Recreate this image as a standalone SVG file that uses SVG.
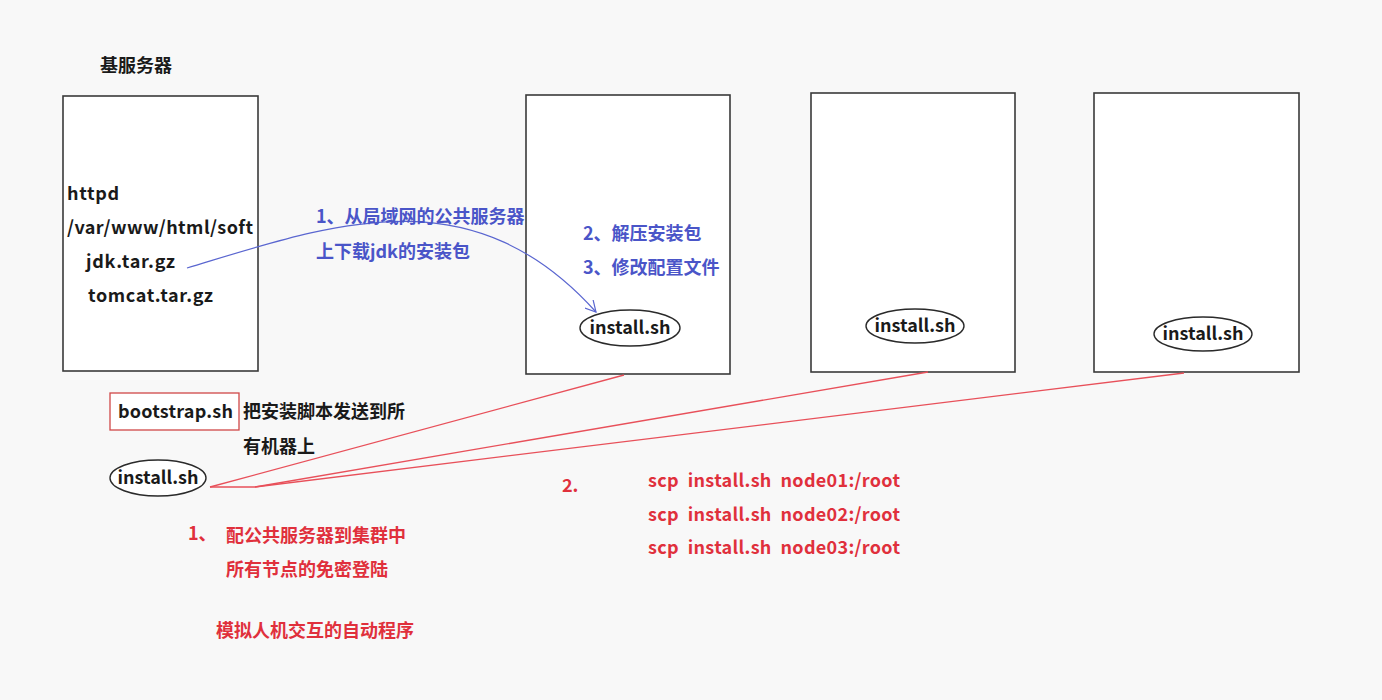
<svg xmlns="http://www.w3.org/2000/svg" width="1382" height="700" viewBox="0 0 1382 700">
<style>
.bg{fill:#f8f8f8}
.box{fill:#ffffff;stroke:#3a3a3a;stroke-width:1.6}
.ell{fill:#ffffff;stroke:#2a2a2a;stroke-width:1.4}
.t{font-family:"Noto Sans CJK SC","Liberation Sans",sans-serif;font-weight:bold;font-size:18px;fill:#1a1a1a}
.tb{font-family:"Noto Sans CJK SC","Liberation Sans",sans-serif;font-weight:bold;font-size:18px;fill:#4a55c8}
.tr{font-family:"Noto Sans CJK SC","Liberation Sans",sans-serif;font-weight:bold;font-size:18px;fill:#e0303c}
.red{fill:none;stroke:#e8505a;stroke-width:1.3}
.blue{fill:none;stroke:#5a66d0;stroke-width:1.2}
</style>
<defs>
<marker id="vArrow" viewBox="0 0 12 12" refX="11" refY="6" markerWidth="12" markerHeight="12" markerUnits="userSpaceOnUse" orient="auto">
<path d="M0,0 L11,6 L0,12" fill="none" stroke="#5a66d0" stroke-width="1.2"/>
</marker>
</defs>
<rect class="bg" x="0" y="0" width="1382" height="700"/>

<g id="title"><text class="t" x="100" y="72">基服务器</text></g>

<g id="base-server">
<rect class="box" x="63" y="96" width="195" height="275"/>
<text class="t" x="67" y="200" textLength="52">httpd</text>
<text class="t" x="67" y="234" textLength="186">/var/www/html/soft</text>
<text class="t" x="86" y="268" textLength="89">jdk.tar.gz</text>
<text class="t" x="88" y="302" textLength="125">tomcat.tar.gz</text>
</g>

<g id="node01">
<rect class="box" x="526" y="95" width="204" height="279"/>
<ellipse class="ell" cx="630" cy="328" rx="50" ry="18"/>
<text class="t" x="630" y="334" text-anchor="middle" font-size="16">install.sh</text>
</g>

<g id="node02">
<rect class="box" x="811" y="93" width="204" height="279"/>
<ellipse class="ell" cx="915" cy="326" rx="49" ry="17"/>
<text class="t" x="915" y="332" text-anchor="middle" font-size="16">install.sh</text>
</g>

<g id="node03">
<rect class="box" x="1094" y="93" width="205" height="279"/>
<ellipse class="ell" cx="1203" cy="334" rx="49" ry="17"/>
<text class="t" x="1203" y="340" text-anchor="middle" font-size="16">install.sh</text>
</g>

<g id="bootstrap">
<rect x="110" y="393" width="129" height="37" fill="#ffffff" stroke="#d04848" stroke-width="1.3"/>
<text class="t" x="118" y="418" textLength="115">bootstrap.sh</text>
<text class="t" x="243" y="418">把安装脚本发送到所</text>
<text class="t" x="243" y="453">有机器上</text>
</g>

<g id="install-local">
<ellipse class="ell" cx="158" cy="478" rx="48" ry="18"/>
<text class="t" x="158" y="484" text-anchor="middle" font-size="16">install.sh</text>
</g>

<g id="connectors">
<path class="blue" d="M187,268 C330,225 470,172 596,312" marker-end="url(#vArrow)"/>
<path class="red" d="M210,487 L255,487"/>
<path class="red" d="M210,487 L624,375"/>
<path class="red" d="M255,487 L928,372"/>
<path class="red" d="M255,487 L1184,373"/>
</g>

<g id="labels">
<text class="tb" x="316" y="223">1、从局域网的公共服务器</text>
<text class="tb" x="316" y="258">上下载jdk的安装包</text>
<text class="tb" x="583" y="240">2、解压安装包</text>
<text class="tb" x="583" y="274">3、修改配置文件</text>
<text class="tr" x="188" y="540">1、</text>
<text class="tr" x="226" y="542">配公共服务器到集群中</text>
<text class="tr" x="226" y="576">所有节点的免密登陆</text>
<text class="tr" x="216" y="637">模拟人机交互的自动程序</text>
<text class="tr" x="562" y="492">2.</text>
<text class="tr" x="648" y="487" xml:space="preserve" textLength="252">scp  install.sh  node01:/root</text>
<text class="tr" x="648" y="521" xml:space="preserve" textLength="252">scp  install.sh  node02:/root</text>
<text class="tr" x="648" y="554" xml:space="preserve" textLength="252">scp  install.sh  node03:/root</text>
</g>
</svg>
